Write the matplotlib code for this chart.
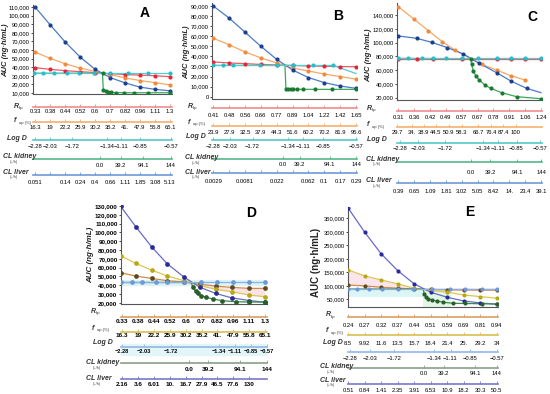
import numpy as np
import matplotlib
matplotlib.use("Agg")
import matplotlib.pyplot as plt
from matplotlib.patches import Rectangle

plt.rcParams['font.family'] = ['Liberation Sans', 'DejaVu Sans']

W, H = 550, 394

# shared nomogram labels
logd_labels = ['−2.28', '−2.03', '−1.72', '−1.34', '−1.11', '−0.85', '−0.57']
kidney_labels = ['0.0', '39.2', '94.1', '144']
idx10 = np.arange(10)

# ---------------- panel A
a_r = ['0.33', '0.38', '0.44', '0.52', '0.6', '0.7', '0.82', '0.96', '1.11', '1.3']
a_fup = ['16.3', '19', '22.2', '25.9', '30.2', '35.2', '41.', '47.9', '55.8', '65.1']
a_logd_x = [0, 1.0, 2.45, 4.8, 5.75, 7.0, 9.05]
a_kid_x = [4.35, 5.7, 7.2, 9.05]
a_liver = ['0.051', '', '0.14', '0.24', '0.4', '0.66', '1.11', '1.85', '3.08', '5.13']
a_blue = [110000, 89500, 69500, 52000, 37500, 28000, 21800, 16800, 14300, 12500]
a_orange = [57700, 50300, 44100, 39000, 35200, 31500, 27500, 24500, 22000, 19500]
a_red = [39500, 37500, 36000, 34800, 33800, 32500, 31500, 30800, 30000, 29000]
a_cyan_x = [-0.1, 0.55, 1.27, 2.1, 2.9, 3.9, 5.0, 6.2, 7.5, 9.0]
a_cyan_y = [33000] * 10
a_green_x = [-0.1, 4.5, 4.55, 4.7, 4.85, 5.05, 5.4, 5.9, 6.6, 7.5, 9.0]
a_green_y = [33000, 33000, 14000, 12300, 11500, 10800, 10400, 10300, 10300, 10300, 10300]

# ---------------- panel B
b_r = ['0.41', '0.48', '0.56', '0.66', '0.77', '0.89', '1.04', '1.22', '1.42', '1.65']
b_fup = ['23.9', '27.9', '32.5', '37.9', '44.3', '51.6', '60.2', '70.2', '81.9', '95.6']
b_logd_x = [0, 1.05, 2.48, 4.73, 5.67, 6.9, 9.0]
b_kid_x = [4.37, 5.46, 7.35, 9.0]
b_liver = ['0.0029', '', '0.0081', '', '0.022', '', '0.062', '0.1', '0.17', '0.29']
b_blue = [90000, 78000, 64000, 50000, 37000, 26500, 19000, 14000, 10600, 8300]
b_orange = [58000, 51500, 44500, 38500, 33500, 28500, 25500, 22500, 20000, 17500]
b_red = [34500, 33500, 32800, 32000, 31500, 31000, 30500, 30200, 29900, 29700]
b_cyan_x = [0, 0.6, 1.26, 2.94, 3.99, 5.04, 6.26, 7.56, 9.0]
b_cyan_y = [31000, 31000, 31000, 31000, 31000, 31000, 31000, 31000, 23000]
b_green_x = [0, 4.52, 4.58, 4.73, 4.87, 5.04, 5.29, 5.67, 6.4, 7.46, 9.0]
b_green_y = [31000, 31000, 7300, 7300, 7300, 7300, 7300, 7300, 7300, 7300, 7300]

# ---------------- panel C
c_r = ['0.31', '0.36', '0.42', '0.49', '0.57', '0.67', '0.78', '0.91', '1.06', '1.24']
c_fup = ['29.7', '34.', '38.9', '44.5', '50.9', '58.3', '66.7', '76.4', '87.4', '100']
c_fup_x = [-0.1, 0.84, 1.58, 2.36, 3.16, 4.0, 5.05, 5.85, 6.63, 7.41]
c_logd_x = [0.1, 1.26, 2.94, 5.36, 6.3, 7.46, 8.93]
c_kid_x = [4.58, 5.8, 7.5, 9.0]
c_liver = ['0.39', '0.65', '1.09', '1.81', '3.02', '5.05', '8.42', '14.', '23.4', '39.1']
c_blue_x = [0, 1.15, 2.1, 3.1, 4.1, 5.1, 6.2, 7.1, 8.1, 9.0]
c_blue_y = [109600, 106200, 100400, 92600, 83400, 69900, 56300, 44200, 33500, 27300]
c_orange_x = [0, 1.0, 1.89, 2.77, 3.57, 5.25, 6.2, 7.08, 7.98]
c_orange_y = [152000, 133800, 117300, 101400, 89200, 68400, 60200, 52000, 45700]
c_red_x = [0, 1.15, 2.2, 4.0, 6.2, 7.08, 7.98, 9.0]
c_red_y = [76800] * 8
c_cyan_x = [0, 0.63, 1.47, 2.2, 3.0, 4.0, 5.04, 6.2, 7.08, 7.98, 9.0]
c_cyan_y = [77000] * 11
c_green_x = [0, 4.57, 4.62, 4.73, 4.89, 5.1, 5.46, 5.84, 6.51, 7.46, 9.0]
c_green_y = [77000, 76500, 68400, 59200, 51500, 45700, 38400, 33600, 27300, 21500, 18500]

# ---------------- panel D
d_fup = a_fup
d_r = a_r
d_logd_x = [0, 1.35, 3.05, 6.1, 7.1, 8.1, 9.1]
d_kid_x = [4.2, 5.4, 7.4, 9.1]
d_liver = ['2.16', '3.6', '6.01', '10.', '16.7', '27.9', '46.5', '77.6', '130']
d_x = [-0.1, 0.85, 1.85, 2.85, 3.9, 4.9, 5.9, 6.9, 8.0, 9.0]
d_blue = [129500, 106500, 83500, 64000, 49000, 37500, 30500, 25500, 22500, 20500]
d_yellow = [73400, 64700, 57100, 50300, 45000, 39500, 35200, 32500, 28700, 26800]
d_brown = [54100, 50300, 47600, 45000, 43500, 41000, 38900, 37400, 36300, 36300]
d_lblue_x = [-0.1, 0.63, 1.26, 2.1, 2.84, 3.9, 4.96, 6.0, 7.0, 8.0, 9.0]
d_lblue_y = [43000] * 11
d_green_x = [-0.1, 4.35, 4.45, 4.62, 4.77, 4.98, 5.3, 5.7, 6.3, 7.14, 8.0, 9.0]
d_green_y = [43000, 43000, 37400, 33300, 30600, 28000, 26100, 24200, 22300, 21100, 20800, 20800]

# ---------------- panel E
e_r = ['0.24', '0.27', '0.32', '0.37', '0.44', '0.51', '0.59', '0.69', '0.81', '0.94']
e_fup = ['8.5', '9.92', '11.6', '13.5', '15.7', '18.4', '21.4', '25.', '29.2', '34']
e_logd_x = [0.1, 1.3, 2.8, 5.2, 6.2, 7.4, 9.0]
e_kid_x = [4.6, 5.8, 7.7, 9.0]
e_liver = ['0.51', '0.84', '1.41', '2.35', '3.91', '6.53', '10.9', '18.2', '30.3', '50.5']
e_blue = [387000, 298000, 218000, 156000, 107000, 76000, 57500, 44000, 36500, 31500]
e_yellow = [158500, 136500, 121500, 107000, 91000, 83000, 76500, 66000, 60000, 54000]
e_brown = [103000, 99500, 94500, 91000, 88000, 86500, 85000, 84500, 84000, 84000]
e_lblue_x = [0, 0.55, 1.28, 2.02, 2.99, 3.95, 5.06, 6.17, 7.06, 8.1, 9.0]
e_lblue_y = [88000] * 11
e_green_x = [0, 4.55, 4.6, 4.7, 4.86, 5.06, 5.36, 5.77, 6.38, 7.09, 8.1, 9.0]
e_green_y = [88000, 88000, 69800, 59900, 52000, 47500, 43800, 38900, 35200, 34500, 33500, 32700]

# colours
ABC = dict(blue=('#4a7cc4', '#1b3f8f'), orange=('#f7a868', '#f08a3c'),
           red=('#ee5a62', '#e0283a'), cyan=('#4cd0d4', '#2abccc'),
           green=('#3aa85a', '#1a7a32'))
DE = dict(blue=('#6a6ac8', '#2a2a9a'), yellow=('#d8c850', '#b8a818'),
          brown=('#d08a48', '#5e4a1a'), lblue=('#8ab0e4', '#6f98d8'),
          green=('#3a8a4a', '#2a5e2a'))
SC_ABC = ['#f08c8c', '#f5b070', '#55c8c8', '#55b88a', '#6c9ad8']
SC_DE = ['#d8a060', '#d8c050', '#90b8e8', '#88a088', '#7878c8']


def px_rect(x0, y0, x1, y1):
    return [x0 / W, 1 - y1 / H, (x1 - x0) / W, (y1 - y0) / H]


def lin(p0, p1, v0, v1, a, b):
    s = (v1 - v0) / (p1 - p0)
    return v0 + (a - p0) * s, v0 + (b - p0) * s


def line(ax, x, y, col, ms=3.0, mark=slice(None), lw=0.9, z=3):
    ax.plot(x, y, '-', color=col[0], lw=lw, zorder=z)
    ax.plot(np.asarray(x)[mark], np.asarray(y)[mark], 'o', color=col[1],
            ms=ms, mec='none', zorder=z + 1)


def main_axes(L, T, R, B, x0, x9, yt, yb, vt, vb, ticks, fs=4.2, bold=False):
    ax = fig.add_axes(px_rect(L, T, R, B))
    ax.set_xlim(*lin(x0, x9, 0, 9, L, R))
    y_lo, y_hi = lin(yt, yb, vt, vb, B, T)
    ax.set_ylim(y_lo, y_hi)
    for s in ['top', 'right']:
        ax.spines[s].set_visible(False)
    for s in ['left', 'bottom']:
        ax.spines[s].set_color('#555555')
        ax.spines[s].set_linewidth(0.8)
    ax.set_xticks([])
    ax.set_yticks(ticks)
    ax.set_yticklabels([f'{t:,}' for t in ticks], fontsize=fs,
                       fontweight='bold' if bold else 'normal')
    ax.tick_params(axis='y', length=1.5, width=0.5, pad=1)
    ax.patch.set_alpha(0)
    return ax


def ylab(x, y, fs=5.5, italic=True):
    fig.text(x / W, 1 - y / H, 'AUC (ng·h/mL)', fontsize=fs, fontweight='bold',
             style='italic' if italic else 'normal', rotation=90,
             ha='center', va='center', color='#222222')


def scale_row(L, R, x0, x9, line_y, lab_y, pos, labels, col, fs=4.2, bold=False):
    ax = fig.add_axes(px_rect(L, line_y - 3, R, line_y))
    ax.set_xlim(*lin(x0, x9, 0, 9, L, R))
    for s in ['top', 'right', 'left']:
        ax.spines[s].set_visible(False)
    ax.spines['bottom'].set_color(col)
    ax.spines['bottom'].set_linewidth(1.2)
    ax.set_yticks([])
    ax.set_xticks(pos)
    ax.set_xticklabels(labels, fontsize=fs, fontweight='bold' if bold else 'normal')
    fs_px = fs * 100 / 72
    pad = max(0.0, (lab_y - line_y - fs_px / 2) * 0.72)
    ax.tick_params(axis='x', direction='in', length=2, width=0.6, color=col, pad=pad)
    ax.patch.set_alpha(0)
    return ax


def row_names(xs, ys, fs=5.0):
    names = [('R', 'bp'), ('f', 'up (%)'), ('Log D', None), ('CL kidney', '(L/h)'), ('CL liver', '(L/h)')]
    for (name, sub), x, y in zip(names, xs, ys):
        fig.text(x / W, 1 - y / H, name, fontsize=fs, fontweight='bold',
                 style='italic', va='center', ha='left', color='#333333')
        if sub is None:
            continue
        if name.startswith('CL'):
            fig.text((x + 7) / W, 1 - (y + 5) / H, sub, fontsize=2.8,
                     va='center', ha='left', color='#444444')
        else:
            fig.text((x + 5) / W, 1 - (y + 1.6) / H, sub, fontsize=3.0,
                     va='center', ha='left', color='#333333')


fig = plt.figure(figsize=(5.5, 3.94), dpi=100)
fig.patch.set_facecolor('white')

# ================= A
L, R_, x0, x9 = 33, 172, 35, 170
ax = main_axes(L, 5, R_, 94, x0, x9, 7, 93, 110000, 10000, list(range(10000, 110001, 10000)))
line(ax, idx10, a_red, ABC['red'])
line(ax, idx10, a_orange, ABC['orange'])
line(ax, idx10, a_blue, ABC['blue'])
line(ax, a_green_x, a_green_y, ABC['green'], mark=slice(1, None))
line(ax, a_cyan_x, a_cyan_y, ABC['cyan'])
ylab(6, 50)
fig.text(145 / W, 1 - 13 / H, 'A', fontsize=10, fontweight='bold', ha='center', va='center')
rows = [(107, 112, idx10, a_r), (122, 127.5, idx10, a_fup), (140, 147, a_logd_x, logd_labels),
        (159, 166, a_kid_x, kidney_labels), (175, 183, idx10, a_liver)]
for (ly, lb, pos, lab), col in zip(rows, SC_ABC):
    scale_row(L, R_, x0, x9, ly, lb, pos, lab, col)
row_names([14, 14, 7, 3, 3], [106, 121, 138, 157, 172])

# ================= B
L, R_, x0, x9 = 212, 357, 213.3, 356
ax = main_axes(L, 3, R_, 99.3, x0, x9, 6, 96.7, 90000, 0, list(range(0, 90001, 10000)))
line(ax, idx10, b_red, ABC['red'])
line(ax, idx10, b_orange, ABC['orange'])
line(ax, idx10, b_blue, ABC['blue'])
line(ax, b_green_x, b_green_y, ABC['green'], mark=slice(2, None))
line(ax, b_cyan_x, b_cyan_y, ABC['cyan'], mark=slice(0, 8))
ylab(187, 52)
fig.text(338 / W, 1 - 16 / H, 'B', fontsize=10, fontweight='bold', ha='center', va='center')
rows = [(108.3, 116, idx10, b_r), (126, 132.7, idx10, b_fup), (140, 146.7, b_logd_x, logd_labels),
        (159.3, 164.5, b_kid_x, kidney_labels), (173, 181.7, idx10, b_liver)]
for (ly, lb, pos, lab), col in zip(rows, SC_ABC):
    scale_row(L, R_, x0, x9, ly, lb, pos, lab, col)
row_names([188, 188, 186, 185, 185], [106, 122, 137, 157.5, 172])

# ================= C
L, R_, x0, x9 = 397, 542, 398.3, 541
ax = main_axes(L, 3.3, R_, 100, x0, x9, 15, 97.7, 140000, 20000, list(range(20000, 140001, 20000)))
line(ax, c_red_x, c_red_y, ABC['red'])
line(ax, c_orange_x, c_orange_y, ABC['orange'])
line(ax, c_blue_x, c_blue_y, ABC['blue'], mark=slice(0, 9))
line(ax, c_green_x, c_green_y, ABC['green'], mark=slice(1, None))
line(ax, c_cyan_x, c_cyan_y, ABC['cyan'])
ylab(369, 55)
fig.text(532 / W, 1 - 17 / H, 'C', fontsize=10, fontweight='bold', ha='center', va='center')
rows = [(110.7, 118, idx10, c_r), (126.7, 133, c_fup_x, c_fup), (142.7, 148.5, c_logd_x, logd_labels),
        (161.7, 173, c_kid_x, kidney_labels), (182.7, 191.7, idx10, c_liver)]
for (ly, lb, pos, lab), col in zip(rows, SC_ABC):
    scale_row(L, R_, x0, x9, ly, lb, pos, lab, col)
row_names([367, 367, 367, 366, 366], [108, 125, 140, 159, 181])

# ================= D
L, R_, x0, x9 = 121, 267, 122.3, 265
ax = main_axes(L, 205, R_, 304, x0, x9, 206, 302.7, 130000, 20000,
               list(range(20000, 130001, 10000)), fs=4.5, bold=True)
ax.axhspan(40500, 45500, color='#dcf4f8', zorder=0)
ax.fill_between(d_x[5:], d_yellow[5:], d_brown[5:], color='#fbe2ea', zorder=0, lw=0)
line(ax, d_x, d_brown, DE['brown'], ms=3.4)
line(ax, d_x, d_yellow, DE['yellow'], ms=3.4)
line(ax, d_x, d_blue, DE['blue'], ms=3.4)
line(ax, d_green_x, d_green_y, DE['green'], ms=3.4, mark=slice(2, None))
line(ax, d_lblue_x, d_lblue_y, DE['lblue'], ms=3.4)
ylab(91, 255, fs=5.8)
fig.text(251 / W, 1 - 213 / H, 'D', fontsize=10, fontweight='bold', ha='center', va='center')
fig.add_artist(Rectangle((L / W, 1 - 355 / H), (R_ - L) / W, 11 / H,
                         transform=fig.transFigure, color='#e2f6f8', zorder=0))
rows = [(316.7, 322, idx10, d_r, 4.6), (331.7, 336, idx10, d_fup, 4.6),
        (346.7, 351.7, d_logd_x, logd_labels, 4.1),
        (362.7, 370, d_kid_x, kidney_labels, 4.6), (379.3, 385.5, np.arange(9), d_liver, 4.6)]
for (ly, lb, pos, lab, fs), col in zip(rows, SC_DE):
    scale_row(L, R_, x0, x9, ly, lb, pos, lab, col, fs=fs, bold=True)
row_names([91, 92, 93, 86, 86], [311.5, 328, 343, 363, 379])

# ================= E
L, R_, x0, x9 = 348, 498, 348.3, 496.7
ax = main_axes(L, 206.7, R_, 307.3, x0, x9, 218.3, 299.3, 350000, 50000,
               list(range(50000, 350001, 50000)), fs=4.2)
ax.fill_between(idx10[:5], e_brown[:5], e_yellow[:5], color='#fce4ec', zorder=0, lw=0)
ax.fill_between(idx10[4:], 80000, 92000, color='#fbe6ee', zorder=0, lw=0)
ax.fill_between([0, 4.55], 60000, 88000, color='#dcf6f8', zorder=0, lw=0)
ax.fill_between([4.55, 6.2], 22000, 90000, color='#e2f6e6', zorder=0, lw=0)
line(ax, idx10, e_brown, DE['brown'])
line(ax, idx10, e_yellow, DE['yellow'])
line(ax, idx10, e_blue, DE['blue'])
line(ax, e_green_x, e_green_y, DE['green'], mark=slice(2, None))
line(ax, e_lblue_x, e_lblue_y, DE['lblue'])
ylab(316, 262, fs=7, italic=False)
fig.text(470 / W, 1 - 212 / H, 'E', fontsize=10, fontweight='bold', ha='center', va='center')
rows = [(316.7, 326, idx10, e_r), (335, 344, idx10, e_fup), (351.7, 359.3, e_logd_x, logd_labels),
        (368, 374, e_kid_x, kidney_labels), (384, 391, idx10, e_liver)]
for (ly, lb, pos, lab), col in zip(rows, SC_DE):
    scale_row(L, R_, x0, x9, ly, lb, pos, lab, col, fs=4.2)
row_names([326, 326, 323, 320, 320], [315, 331, 343, 367, 380])

fig.savefig('out.png', dpi=100)
